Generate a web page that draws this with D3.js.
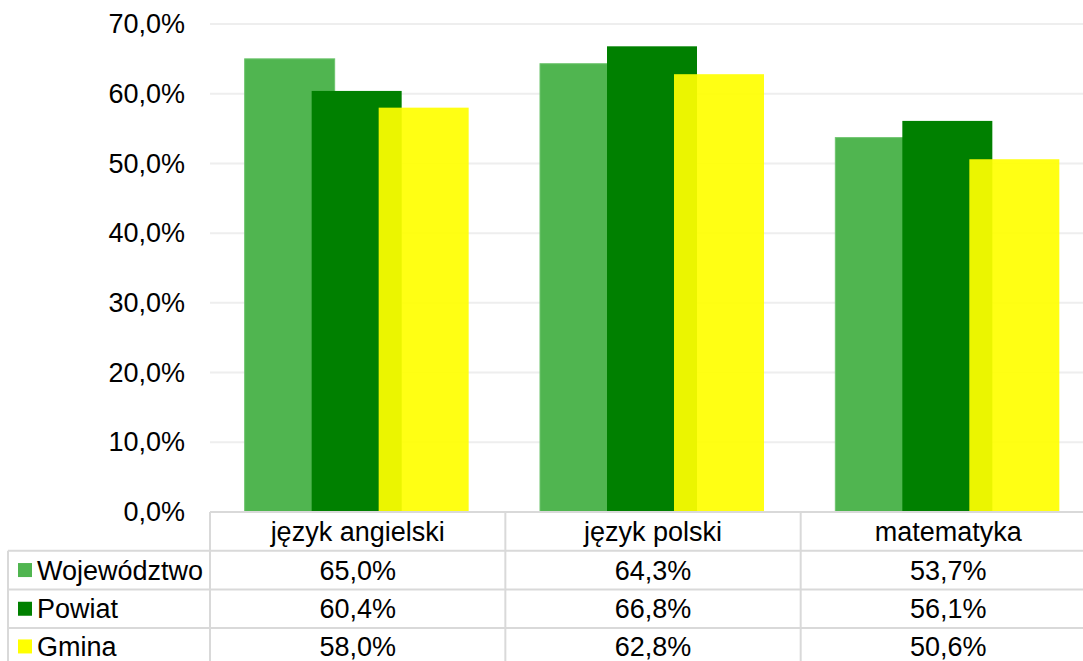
<!DOCTYPE html>
<html>
<head>
<meta charset="utf-8">
<script src="https://cdn.jsdelivr.net/npm/d3@7"></script>
<style>
  body { margin: 0; background: #fff; }
  text { font-family: "Liberation Sans", Arial, sans-serif; fill: #000; }
</style>
</head>
<body>
<div class="chart"></div>
<script>
var categories = ["język angielski", "język polski", "matematyka"];
var seriesNames = ["Województwo", "Powiat", "Gmina"];
var wojewodztwo = [65.0, 64.3, 53.7];
var powiat = [60.4, 66.8, 56.1];
var gmina = [58.0, 62.8, 50.6];
var yTicks = [0, 10, 20, 30, 40, 50, 60, 70];

var seriesValues = [wojewodztwo, powiat, gmina];
var colors = ["#50b550", "#008000", "#ffff00"];
var opacities = [1, 1, 0.92];

var svgWidth = 1083;
var svgHeight = 661;

var plot = { left: 210, right: 1096, top: 24, bottom: 512 };
var rowH = 38.7;
var tableLeft = 8;
var fontSize = "27px";

var svg = d3.select(".chart")
  .append("svg")
  .attr("width", svgWidth)
  .attr("height", svgHeight);

var x = d3.scaleBand()
  .domain(categories)
  .range([plot.left, plot.right])
  .padding(0);

var xSub = d3.scalePoint()
  .domain(seriesNames)
  .range([-67, 67]);

var barWidth = 90;

var y = d3.scaleLinear()
  .domain([0, 70])
  .range([plot.bottom, plot.top]);

// gridlines
svg.append("g")
  .selectAll("line")
  .data(yTicks.filter(d => d > 0))
  .enter()
  .append("line")
  .attr("x1", plot.left)
  .attr("x2", svgWidth)
  .attr("y1", d => y(d))
  .attr("y2", d => y(d))
  .attr("stroke", "#eeeeee")
  .attr("stroke-width", 2);

// y axis labels
var yAxis = d3.axisLeft(y)
  .tickValues(yTicks)
  .tickSize(0)
  .tickPadding(0)
  .tickFormat(d => d3.format(".1f")(d).replace(".", ",") + "%");

var yAxisG = svg.append("g")
  .attr("transform", "translate(185,0)")
  .call(yAxis);
yAxisG.select(".domain").remove();
yAxisG.selectAll("text")
  .attr("font-size", fontSize)
  .attr("font-family", "Liberation Sans, Arial, sans-serif")
  .attr("fill", "#000");

// bars
var barsG = svg.append("g");
seriesNames.forEach(function (name, si) {
  barsG.append("g")
    .selectAll("rect")
    .data(categories)
    .enter()
    .append("rect")
    .attr("x", d => x(d) + x.bandwidth() / 2 + xSub(name) - barWidth / 2 - 1)
    .attr("width", barWidth)
    .attr("y", (d, i) => y(seriesValues[si][i]))
    .attr("height", (d, i) => y(0) - y(seriesValues[si][i]))
    .attr("fill", colors[si])
    .attr("fill-opacity", opacities[si])
    .attr("stroke", si === 0 ? "#6cc46c" : "none")
    .attr("stroke-width", 1);
});

// data table
var table = svg.append("g");
var lineColor = "#d9d9d9";

// horizontal lines
table.append("line")
  .attr("x1", plot.left).attr("x2", svgWidth)
  .attr("y1", plot.bottom).attr("y2", plot.bottom)
  .attr("stroke", lineColor).attr("stroke-width", 2);
[1, 2, 3].forEach(function (r) {
  table.append("line")
    .attr("x1", tableLeft).attr("x2", svgWidth)
    .attr("y1", plot.bottom + r * rowH).attr("y2", plot.bottom + r * rowH)
    .attr("stroke", lineColor).attr("stroke-width", 2);
});

// vertical lines
table.append("line")
  .attr("x1", tableLeft).attr("x2", tableLeft)
  .attr("y1", plot.bottom + rowH).attr("y2", svgHeight)
  .attr("stroke", lineColor).attr("stroke-width", 2);
categories.forEach(function (c) {
  table.append("line")
    .attr("x1", x(c)).attr("x2", x(c))
    .attr("y1", plot.bottom).attr("y2", svgHeight)
    .attr("stroke", lineColor).attr("stroke-width", 2);
});

// header
table.selectAll(".cat")
  .data(categories)
  .enter()
  .append("text")
  .attr("class", "cat")
  .attr("x", d => x(d) + x.bandwidth() / 2)
  .attr("y", plot.bottom + rowH / 2)
  .attr("dy", "0.35em")
  .attr("text-anchor", "middle")
  .attr("font-size", fontSize)
  .text(d => d);

// rows
seriesNames.forEach(function (name, si) {
  var rowMid = plot.bottom + (si + 1.5) * rowH - (si === 2 ? 1 : 0);
  table.append("rect")
    .attr("x", 18)
    .attr("y", rowMid - 7)
    .attr("width", 14)
    .attr("height", 14)
    .attr("fill", colors[si]);
  table.append("text")
    .attr("x", 37)
    .attr("y", rowMid)
    .attr("dy", "0.35em")
    .attr("font-size", fontSize)
    .text(name);
  table.append("g")
    .selectAll("text")
    .data(categories)
    .enter()
    .append("text")
    .attr("x", d => x(d) + x.bandwidth() / 2)
    .attr("y", rowMid)
    .attr("dy", "0.35em")
    .attr("text-anchor", "middle")
    .attr("font-size", fontSize)
    .text((d, i) => d3.format(".1f")(seriesValues[si][i]).replace(".", ",") + "%");
});
</script>
</body>
</html>
